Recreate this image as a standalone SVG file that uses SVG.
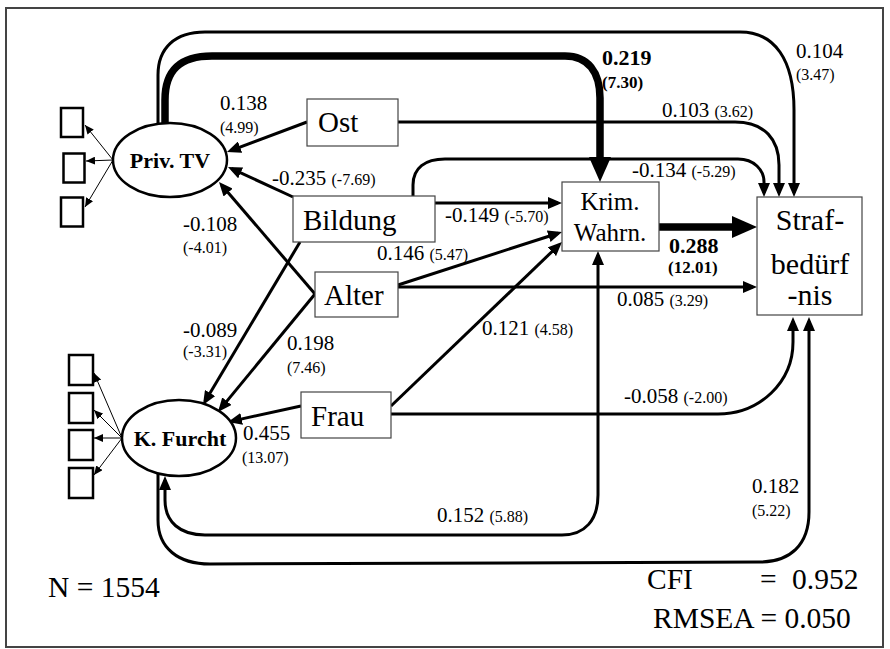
<svg xmlns="http://www.w3.org/2000/svg" width="890" height="649" viewBox="0 0 890 649">
<defs>
<style>
text{font-family:"Liberation Serif","Times New Roman",serif;fill:#000}
.box{fill:#fff;stroke:#444;stroke-width:1.2}
.ell{fill:#fff;stroke:#000;stroke-width:2.5}
.ind{fill:#fff;stroke:#000;stroke-width:2.5}
.c{fill:none;stroke:#000;stroke-width:3}
.thin{fill:none;stroke:#000;stroke-width:1}
.thick{fill:none;stroke:#000;stroke-width:7.5}
.n{font-size:29px}
.lat{font-size:22px;font-weight:bold}
.v{font-size:21px}
.p{font-size:16px}
.vb{font-size:22px;font-weight:bold}
.pb{font-size:17px;font-weight:bold}
.fit{font-size:29.5px}
</style>
<marker id="a" markerUnits="userSpaceOnUse" markerWidth="14" markerHeight="12" viewBox="0 0 14 12" refX="10" refY="6" orient="auto"><path d="M0,0L14,6L0,12z"/></marker>
<marker id="as" markerUnits="userSpaceOnUse" markerWidth="14" markerHeight="12" viewBox="0 0 14 12" refX="10" refY="6" orient="auto-start-reverse"><path d="M0,0L14,6L0,12z"/></marker>
<marker id="t" markerUnits="userSpaceOnUse" markerWidth="9" markerHeight="8" viewBox="0 0 9 8" refX="9" refY="4" orient="auto"><path d="M0,0L9,4L0,8z"/></marker>
<marker id="k" markerUnits="userSpaceOnUse" markerWidth="25" markerHeight="22" viewBox="0 0 25 22" refX="1" refY="11" orient="auto"><path d="M0,0L25,11L0,22z"/></marker>
</defs>
<rect x="0" y="0" width="890" height="649" fill="#fff"/>
<rect x="6" y="8" width="877" height="639" fill="none" stroke="#444" stroke-width="2"/>

<g id="connectors">
<path class="c" d="M158,124 L158,75 C158,48 175,32 205,32 L740,32 C775,32 794,60 794,110 L794,193" marker-end="url(#a)"/>
<path class="thick" d="M165,124 L165,100 C165,70 180,56 212,56 L565,56 C588,56 600,72 600,98 L600,158" marker-end="url(#k)"/>
<path class="c" d="M307,122 L230.7,150.6" marker-end="url(#a)"/>
<path class="c" d="M398,122 L735,122 C765,122 779,140 779,165 L779,193" marker-end="url(#a)"/>
<path class="c" d="M413,196 L413,185 C413,168 425,159 445,159 L738,159 C754,159 764,170 764,182 L764,193" marker-end="url(#a)"/>
<path class="c" d="M435,203 L558,203" marker-end="url(#a)"/>
<path class="c" d="M293,197 L231.6,168.7" marker-end="url(#a)"/>
<path class="c" d="M315,294 L221.6,185" marker-end="url(#a)"/>
<path class="c" d="M300,242 L205,401.6" marker-end="url(#a)"/>
<path class="c" d="M315,294 L220.5,408.9" marker-end="url(#a)"/>
<path class="c" d="M301,406 L231.9,421.1" marker-end="url(#a)"/>
<path class="c" d="M398,285 L558.2,233.2" marker-end="url(#a)"/>
<path class="c" d="M398,287 L753,287" marker-end="url(#a)"/>
<path class="c" d="M391,406 L559.1,244.8" marker-end="url(#a)"/>
<path class="c" d="M391,414 L718,414 C760,414 793,382 793,342 L793,321" marker-end="url(#a)"/>
<path class="c" d="M165,480 L165,500 C165,522 180,535 205,535 L562,535 C585,535 598,520 598,495 L598,255" marker-start="url(#as)" marker-end="url(#a)"/>
<path class="c" d="M158,473 L158,520 C158,548 178,564 210,564 L760,562 C790,562 809,545 809,512 L809,321" marker-end="url(#a)"/>
<path class="thick" d="M659,227 L733,227" marker-end="url(#k)"/>
<path class="thin" d="M113,160 L85,125" marker-end="url(#t)"/>
<path class="thin" d="M113,160 L86,161" marker-end="url(#t)"/>
<path class="thin" d="M113,160 L85,207" marker-end="url(#t)"/>
<path class="thin" d="M122,438 L94,373" marker-end="url(#t)"/>
<path class="thin" d="M122,438 L94,410" marker-end="url(#t)"/>
<path class="thin" d="M122,438 L94,438" marker-end="url(#t)"/>
<path class="thin" d="M122,438 L94,475" marker-end="url(#t)"/>
</g>

<g id="privtv"><ellipse class="ell" cx="170" cy="160" rx="57" ry="37"/><text class="lat" x="170" y="168" text-anchor="middle">Priv. TV</text></g>
<g id="kfurcht"><ellipse class="ell" cx="179" cy="438" rx="57" ry="38"/><text class="lat" x="180" y="446" text-anchor="middle">K. Furcht</text></g>
<g id="ind-p1"><rect class="ind" x="61" y="108" width="22" height="29"/></g>
<g id="ind-p2"><rect class="ind" x="63.5" y="153.5" width="21" height="29"/></g>
<g id="ind-p3"><rect class="ind" x="61" y="197.5" width="22" height="29"/></g>
<g id="ind-k1"><rect class="ind" x="69" y="355" width="24" height="30"/></g>
<g id="ind-k2"><rect class="ind" x="69" y="393" width="24" height="30"/></g>
<g id="ind-k3"><rect class="ind" x="69" y="430" width="24" height="30"/></g>
<g id="ind-k4"><rect class="ind" x="69" y="468" width="24" height="30"/></g>

<g id="ost"><rect class="box" x="307" y="99" width="91" height="47"/><text class="n" x="318" y="132">Ost</text></g>
<g id="bildung"><rect class="box" x="293" y="196" width="142" height="46"/><text class="n" x="303" y="230">Bildung</text></g>
<g id="alter"><rect class="box" x="315" y="272" width="83" height="45"/><text class="n" x="324" y="305">Alter</text></g>
<g id="frau"><rect class="box" x="301" y="392" width="90" height="46"/><text class="n" x="311" y="426">Frau</text></g>
<g id="krim"><rect class="box" x="562" y="182" width="97" height="69"/><text x="610" y="210" font-size="25" text-anchor="middle">Krim.</text><text x="610" y="241" font-size="25" text-anchor="middle">Wahrn.</text></g>
<g id="straf"><rect class="box" x="757" y="197" width="105" height="118"/><text x="810" y="230" font-size="30" text-anchor="middle">Straf-</text><text x="810" y="274" font-size="30" text-anchor="middle">bedürf</text><text x="810" y="305" font-size="30" text-anchor="middle">-nis</text></g>

<g id="labels">
<text class="v" x="220" y="110">0.138</text><text class="p" x="220" y="133">(4.99)</text>
<text class="vb" x="602" y="65">0.219</text><text class="pb" x="602" y="88">(7.30)</text>
<text class="v" x="796" y="58">0.104</text><text class="p" x="796" y="80">(3.47)</text>
<text x="662" y="117"><tspan class="v">0.103 </tspan><tspan class="p">(3.62)</tspan></text>
<text x="632" y="177"><tspan class="v">-0.134 </tspan><tspan class="p">(-5.29)</tspan></text>
<text x="272" y="185"><tspan class="v">-0.235 </tspan><tspan class="p">(-7.69)</tspan></text>
<text x="445" y="222"><tspan class="v">-0.149 </tspan><tspan class="p">(-5.70)</tspan></text>
<text class="v" x="183" y="231">-0.108</text><text class="p" x="183" y="253">(-4.01)</text>
<text x="377" y="260"><tspan class="v">0.146 </tspan><tspan class="p">(5.47)</tspan></text>
<text class="v" x="183" y="337">-0.089</text><text class="p" x="183" y="357">(-3.31)</text>
<text class="v" x="287" y="350">0.198</text><text class="p" x="287" y="373">(7.46)</text>
<text x="482" y="335"><tspan class="v">0.121 </tspan><tspan class="p">(4.58)</tspan></text>
<text class="vb" x="669" y="253">0.288</text><text class="pb" x="668" y="273">(12.01)</text>
<text x="617" y="306"><tspan class="v">0.085 </tspan><tspan class="p">(3.29)</tspan></text>
<text x="624" y="403"><tspan class="v">-0.058 </tspan><tspan class="p">(-2.00)</tspan></text>
<text class="v" x="243" y="440">0.455</text><text class="p" x="242" y="463">(13.07)</text>
<text x="437" y="522"><tspan class="v">0.152 </tspan><tspan class="p">(5.88)</tspan></text>
<text class="v" x="752" y="493">0.182</text><text class="p" x="752" y="516">(5.22)</text>
<text class="fit" x="48" y="597">N = 1554</text>
<text class="fit" x="647" y="589">CFI</text><text class="fit" x="760" y="589">=</text><text class="fit" x="792" y="589">0.952</text>
<text class="fit" x="653" y="628">RMSEA = 0.050</text>
</g>
</svg>
